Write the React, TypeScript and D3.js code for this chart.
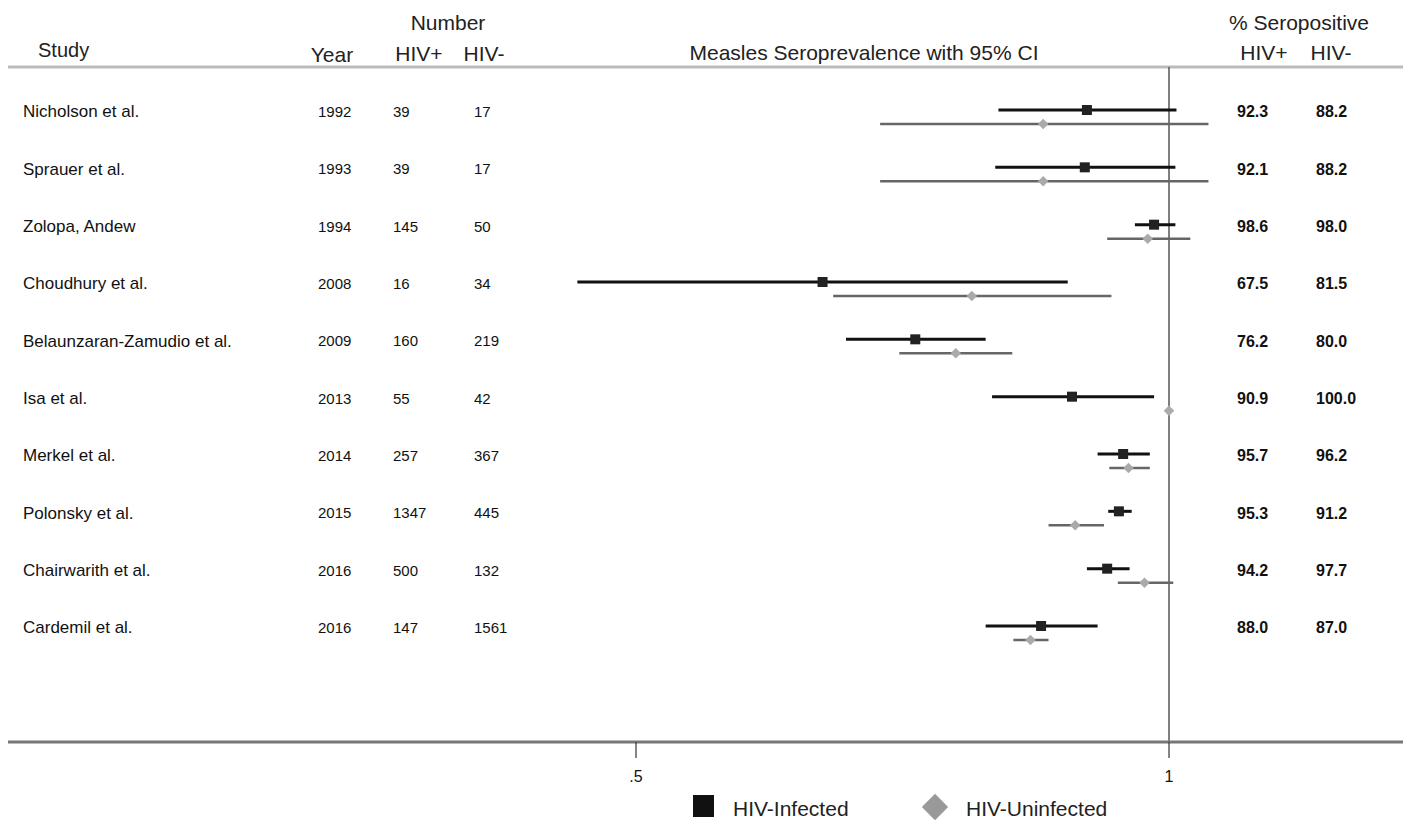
import * as d3 from "d3";

const studies = [
  "Nicholson et al.",
  "Sprauer et al.",
  "Zolopa, Andew",
  "Choudhury et al.",
  "Belaunzaran-Zamudio et al.",
  "Isa et al.",
  "Merkel et al.",
  "Polonsky et al.",
  "Chairwarith et al.",
  "Cardemil et al.",
];
const years = [1992, 1993, 1994, 2008, 2009, 2013, 2014, 2015, 2016, 2016];
const nPos = [39, 39, 145, 16, 160, 55, 257, 1347, 500, 147];
const nNeg = [17, 17, 50, 34, 219, 42, 367, 445, 132, 1561];
const pctPos = ["92.3", "92.1", "98.6", "67.5", "76.2", "90.9", "95.7", "95.3", "94.2", "88.0"];
const pctNeg = ["88.2", "88.2", "98.0", "81.5", "80.0", "100.0", "96.2", "91.2", "97.7", "87.0"];

// point estimate and 95% CI
const posEst = [0.923, 0.921, 0.986, 0.675, 0.762, 0.909, 0.957, 0.953, 0.942, 0.88];
const posLo = [0.84, 0.837, 0.968, 0.445, 0.697, 0.834, 0.933, 0.943, 0.923, 0.828];
const posHi = [1.007, 1.006, 1.006, 0.905, 0.828, 0.986, 0.982, 0.965, 0.963, 0.933];
const negEst = [0.882, 0.882, 0.98, 0.815, 0.8, 1.0, 0.962, 0.912, 0.977, 0.87];
const negLo = [0.729, 0.729, 0.942, 0.685, 0.747, 1.0, 0.944, 0.887, 0.952, 0.854];
const negHi = [1.037, 1.037, 1.02, 0.946, 0.853, 1.0, 0.982, 0.939, 1.004, 0.887];

const ticks = [0.5, 1];
const tickLabels = [".5", "1"];

export default function App() {
  const width = 1403;
  const height = 821;
  const x = d3.scaleLinear().domain([0.5, 1]).range([636, 1169]);
  const y = d3.scaleLinear().domain([0, studies.length - 1]).range([110, 626]);
  const gap = 14;
  const font = "Liberation Sans, Arial, sans-serif";
  const diamond = d3.symbol().type(d3.symbolDiamond2);

  return (
    <svg
      width={width}
      height={height}
      style={{ position: "absolute", left: 0, top: 0, background: "#fff", fontFamily: font }}
    >
      {/* header */}
      <g fill="#222" fontSize={21}>
        <text x={448} y={30} textAnchor="middle">Number</text>
        <text x={38} y={57} fontSize={20}>Study</text>
        <text x={332} y={62} textAnchor="middle">Year</text>
        <text x={419} y={61} textAnchor="middle">HIV+</text>
        <text x={484} y={61} textAnchor="middle">HIV-</text>
        <text x={864} y={60} textAnchor="middle">Measles Seroprevalence with 95% CI</text>
        <text x={1299} y={30} textAnchor="middle">% Seropositive</text>
        <text x={1264} y={60} textAnchor="middle">HIV+</text>
        <text x={1331} y={60} textAnchor="middle">HIV-</text>
      </g>
      <line x1={8} x2={width} y1={67} y2={67} stroke="#bbb" strokeWidth={3} />

      {/* reference line */}
      <line x1={x(1)} x2={x(1)} y1={67} y2={742} stroke="#555" strokeWidth={1.5} />

      {/* rows */}
      {studies.map((s, i) => {
        const yy = y(i);
        return (
          <g key={s}>
            <g fontSize={15} fill="#111" dominantBaseline="middle">
              <text x={23} y={yy + 3} fontSize={17}>{s}</text>
              <text x={318} y={yy + 3}>{years[i]}</text>
              <text x={393} y={yy + 3}>{nPos[i]}</text>
              <text x={474} y={yy + 3}>{nNeg[i]}</text>
              <text x={1237} y={yy + 3} fontSize={16} fontWeight="bold">{pctPos[i]}</text>
              <text x={1316} y={yy + 3} fontSize={16} fontWeight="bold">{pctNeg[i]}</text>
            </g>
            <line x1={x(posLo[i])} x2={x(posHi[i])} y1={yy} y2={yy} stroke="#111" strokeWidth={3} />
            <rect x={x(posEst[i]) - 5} y={yy - 5} width={10} height={10} fill="#222" />
            {negHi[i] > negLo[i] && (
              <line x1={x(negLo[i])} x2={x(negHi[i])} y1={yy + gap} y2={yy + gap} stroke="#666" strokeWidth={2.5} />
            )}
            <path d={diamond.size(70)()!} transform={`translate(${x(negEst[i])},${yy + gap})`} fill="#aaa" />
          </g>
        );
      })}

      {/* x axis */}
      <line x1={8} x2={width} y1={742} y2={742} stroke="#777" strokeWidth={3} />
      {ticks.map((t, i) => (
        <g key={t}>
          <line x1={x(t)} x2={x(t)} y1={742} y2={758} stroke="#333" strokeWidth={1.2} />
          <text x={x(t)} y={782} textAnchor="middle" fontSize={16} fill="#111">{tickLabels[i]}</text>
        </g>
      ))}

      {/* legend */}
      <rect x={693} y={795} width={21} height={22} fill="#111" />
      <text x={733} y={816} fontSize={21} fill="#222">HIV-Infected</text>
      <path d={diamond.size(440)()!} transform="translate(935,807)" fill="#999" />
      <text x={966} y={816} fontSize={21} fill="#222">HIV-Uninfected</text>
    </svg>
  );
}
